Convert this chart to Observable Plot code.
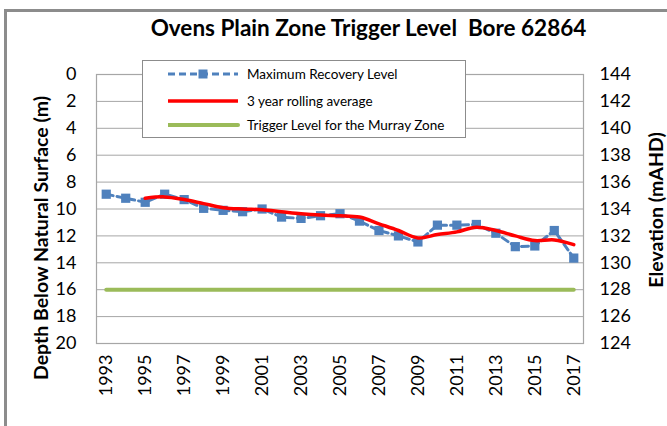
<!DOCTYPE html>
<html><head><meta charset="utf-8">
<script src="https://cdn.jsdelivr.net/npm/d3@7"></script>
<script src="https://cdn.jsdelivr.net/npm/@observablehq/plot@0.6"></script>
<style>
body{margin:0;background:#fff;}
#wrap{position:relative;width:667px;height:426px;overflow:hidden;font-family:Lato,"Open Sans",sans-serif;color:#000;}
#frame{position:absolute;left:4px;top:9px;width:700px;height:440px;border-left:3px solid #8c8c8c;border-top:3px solid #8c8c8c;}
#chart{position:absolute;left:0;top:0;}
#title{position:absolute;left:0;width:667px;top:14px;text-align:center;font-weight:bold;font-size:22.5px;padding-left:70px;box-sizing:border-box;white-space:pre;}
.ytitle{position:absolute;font-weight:bold;font-size:19.5px;white-space:nowrap;transform:translate(-50%,-50%) rotate(-90deg);}
#legend{position:absolute;left:142px;top:60px;width:322px;height:76px;border:1px solid #8c8c8c;background:#fff;font-size:13.5px;}
#legend .row{position:absolute;left:0;height:20px;width:320px;}
#legend svg{position:absolute;left:25px;top:0;}
#legend span{position:absolute;left:104px;top:1px;line-height:18px;}
</style>
</head><body>
<div id="wrap">
  <div id="frame"></div>
  <div id="chart"></div>
  <div id="title">Ovens Plain Zone Trigger Level  Bore 62864</div>
  <div class="ytitle" style="left:40px;top:238px;">Depth Below Natural Surface (m)</div>
  <div class="ytitle" style="left:655px;top:210px;">Elevation (mAHD)</div>
  <div id="legend"></div>
</div>
<script>
// ---- data ----
const years = [1993,1994,1995,1996,1997,1998,1999,2000,2001,2002,2003,2004,2005,2006,2007,2008,2009,2010,2011,2012,2013,2014,2015,2016,2017];
const maxRecovery = [8.9,9.2,9.5,8.9,9.3,9.95,10.1,10.2,10.0,10.6,10.7,10.5,10.35,10.9,11.6,12.0,12.45,11.2,11.2,11.15,11.8,12.8,12.75,11.6,13.65];
const rollYears = [1995,1996,1997,1998,1999,2000,2001,2002,2003,2004,2005,2006,2007,2008,2009,2010,2011,2012,2013,2014,2015,2016,2017];
const rolling = [9.2,9.1,9.3,9.6,9.9,10.0,10.05,10.2,10.35,10.45,10.5,10.6,11.1,11.6,12.15,11.9,11.7,11.35,11.6,12.0,12.35,12.3,12.65];
const triggerYears = [1993,2017];
const triggerLevel = [16,16];
const depthTicks = [0,2,4,6,8,10,12,14,16,18,20];
const yearTicks = [1993,1995,1997,1999,2001,2003,2005,2007,2009,2011,2013,2015,2017];
const elevationDatum = 144;
const seriesNames = ["Maximum Recovery Level","3 year rolling average","Trigger Level for the Murray Zone"];
const colors = {blue:"#4f81bd", red:"#ff0000", green:"#9bbb59", grid:"#a6a6a6"};

const blueData = years.map((y,i)=>({year:y, depth:maxRecovery[i]}));
const redData = rollYears.map((y,i)=>({year:y, depth:rolling[i]}));
const greenData = triggerYears.map((y,i)=>({year:y, depth:triggerLevel[i]}));

const plot = Plot.plot({
  width:667, height:426,
  marginLeft:96, marginRight:84, marginTop:74, marginBottom:83,
  style:{fontFamily:"Lato, 'Open Sans', sans-serif", fontSize:"18px", color:"#000", background:"transparent", overflow:"visible"},
  x:{domain:[1992.5,2017.5], type:"linear"},
  y:{domain:[0,20], reverse:true},
  marks:[
    Plot.gridY(depthTicks,{stroke:colors.grid, strokeOpacity:1, strokeWidth:1}),
    Plot.frame({stroke:colors.grid, strokeWidth:1.2}),
    Plot.axisY(depthTicks,{anchor:"left", tickSize:0, tickPadding:20, label:null, fontSize:18}),
    Plot.axisY(depthTicks,{anchor:"right", tickSize:0, tickPadding:16, label:null, fontSize:18, tickFormat:d=>String(elevationDatum-d)}),
    Plot.axisX(yearTicks,{anchor:"bottom", tickSize:0, tickPadding:11, tickRotate:-90, label:null, fontSize:18, tickFormat:d=>String(d)}),
    Plot.line(greenData,{x:"year", y:"depth", stroke:colors.green, strokeWidth:4}),
    Plot.line(blueData,{x:"year", y:"depth", stroke:colors.blue, strokeWidth:3, strokeDasharray:"7,4"}),
    Plot.dot(blueData,{x:"year", y:"depth", symbol:"square", r:5.2, fill:colors.blue, stroke:"none"}),
    Plot.line(redData,{x:"year", y:"depth", stroke:colors.red, strokeWidth:3.5, curve:"catmull-rom"})
  ]
});
document.getElementById("chart").appendChild(plot);

// ---- legend ----
const leg = document.getElementById("legend");
const rowsTop = [3,30,54];
const samples = [
  `<line x1="0" y1="10" x2="70" y2="10" stroke="${colors.blue}" stroke-width="3" stroke-dasharray="7,4"/><rect x="30.5" y="5.5" width="9" height="9" fill="${colors.blue}"/>`,
  `<line x1="0" y1="10" x2="70" y2="10" stroke="${colors.red}" stroke-width="3.5"/>`,
  `<line x1="0" y1="10" x2="70" y2="10" stroke="${colors.green}" stroke-width="4" stroke-linecap="round"/>`
];
seriesNames.forEach((name,i)=>{
  const r = document.createElement("div");
  r.className="row"; r.style.top = rowsTop[i]+"px";
  r.innerHTML = `<svg width="72" height="20">${samples[i]}</svg><span>${name}</span>`;
  leg.appendChild(r);
});
</script>
</body></html>
